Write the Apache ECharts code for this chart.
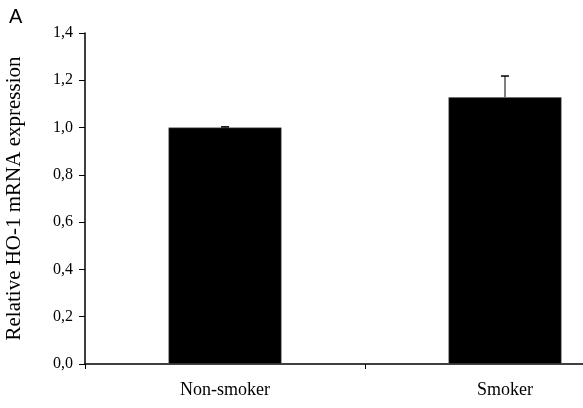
<!DOCTYPE html>
<html><head><meta charset="utf-8">
<script src="https://cdn.jsdelivr.net/npm/echarts@6/dist/echarts.min.js"></script>
<style>html,body{margin:0;padding:0;background:#fff}#c{width:583px;height:408px}</style>
</head><body><div id="c"></div>
<script>
const categories = ['Non-smoker', 'Smoker'];
const values = [1.0, 1.128];
const errors = [0.003, 0.09];
const yTicks = ['0,0','0,2','0,4','0,6','0,8','1,0','1,2','1,4'];

const chart = echarts.init(document.getElementById('c'));
const serif = 'Liberation Serif';
chart.setOption({
  animation: false,
  backgroundColor: '#fff',
  title: { text: 'A', left: 9, top: 7, padding: 0, textStyle: { fontFamily: 'Liberation Sans', fontWeight: 'normal', fontSize: 20, color: '#000' } },
  grid: { left: 85, top: 33, width: 560, height: 331, outerBoundsMode: 'none', containLabel: false },
  xAxis: {
    type: 'category', data: categories,
    axisLine: { lineStyle: { color: '#000', width: 1.5 } },
    axisTick: { show: true, length: 5, lineStyle: { color: '#000' } },
    axisLabel: { color: '#000', fontFamily: serif, fontSize: 18, margin: 17 }
  },
  yAxis: {
    type: 'value', min: 0, max: 1.4, interval: 0.2,
    name: 'Relative HO-1 mRNA expression', nameLocation: 'middle', nameGap: 60,
    nameTextStyle: { color: '#000', fontFamily: serif, fontSize: 21 },
    axisLine: { show: true, lineStyle: { color: '#000', width: 1.5 } },
    axisTick: { show: true, length: 6, lineStyle: { color: '#000' } },
    splitLine: { show: false },
    axisLabel: { color: '#000', fontFamily: serif, fontSize: 16, margin: 12,
      formatter: v => yTicks[Math.round(v / 0.2)] }
  },
  series: [
    { type: 'bar', data: values, barWidth: 113, itemStyle: { color: '#000', borderColor: '#666', borderWidth: 0.5 } },
    { type: 'custom', z: 5,
      data: values.map((v, i) => [i, v, v + errors[i]]),
      renderItem: (params, api) => {
        const base = api.coord([api.value(0), api.value(1)]);
        const top = api.coord([api.value(0), api.value(2)]);
        const x = base[0];
        return { type: 'group', children: [
          { type: 'line', shape: { x1: x, y1: base[1], x2: x, y2: top[1] }, style: { stroke: '#555', lineWidth: 1.5 } },
          { type: 'line', shape: { x1: x - 4, y1: top[1], x2: x + 4, y2: top[1] }, style: { stroke: '#000', lineWidth: 1.5 } }
        ]};
      }
    }
  ]
});
</script></body></html>
